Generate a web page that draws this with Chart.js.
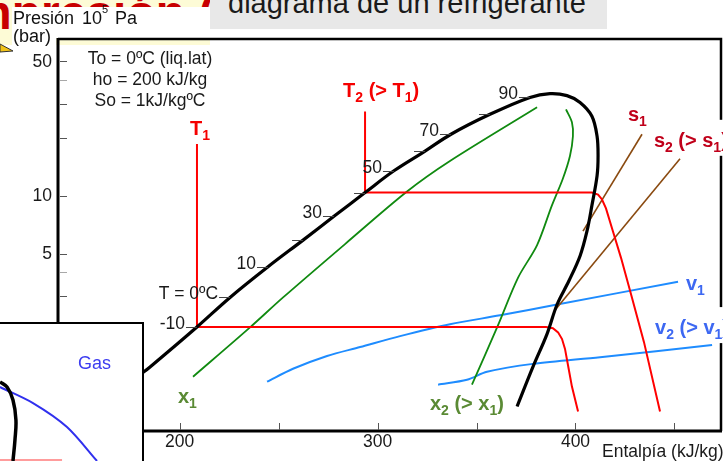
<!DOCTYPE html>
<html>
<head>
<meta charset="utf-8">
<script src="https://cdn.jsdelivr.net/npm/chart.js@4.4.1/dist/chart.umd.min.js"></script>
<style>
    html, body { margin: 0; padding: 0; background: #fff; }
    body { width: 723px; height: 461px; position: relative; overflow: hidden; font-family: "Liberation Sans", Arial, sans-serif; }
    #slideHead { position: absolute; left: 0; top: 0; width: 210px; height: 45px; background: #fdfbd6; overflow: hidden; z-index: 1; }
    #slideHead span { position: absolute; left: -31px; top: -11px; font: bold 48px "Liberation Sans", Arial, sans-serif; line-height: 48px; color: #c80000; white-space: nowrap; }
    .cover { position: absolute; background: #fff; z-index: 2; }
    #graphCanvas { position: absolute; left: 0; top: 0; z-index: 3; }
    .txt { position: absolute; white-space: nowrap; color: #111; z-index: 4; line-height: 18px; font-size: 18px; }
    #titleBox { position: absolute; left: 210px; top: 0; width: 397px; height: 29px; background: #e8e8e8; overflow: hidden; z-index: 4; }
    #titleBox span { position: absolute; left: 18px; top: -11.5px; font-size: 29px; line-height: 29px; color: #1a1a1a; white-space: nowrap; }
    #inset { position: absolute; left: -3px; top: 322px; width: 147px; height: 150px; box-sizing: border-box; border: 2.5px solid #000; background: #fff; z-index: 5; }
    #insetCanvas { position: absolute; left: 0; top: 324px; z-index: 6; }
    #gasLabel { position: absolute; left: 78px; top: 354px; font-size: 18px; line-height: 18px; color: #3c3cf0; z-index: 7; }
    #pointer { position: absolute; left: 0; top: 42px; z-index: 4; }
</style>
</head>
<body>
<div id="slideHead"><span>mpresión (R</span></div>
<div class="cover" style="left:12px; top:7px; width:198px; height:31px;"></div>
<div class="cover" style="left:12px; top:38px; width:44px; height:10px;"></div>
<svg id="pointer" width="16" height="14"><polygon points="0,2 13,9 0,10" fill="#f2c318" stroke="#333" stroke-width="1"/></svg>

<canvas id="graphCanvas" width="723" height="461"></canvas>

<span class="txt" style="left:13px; top:9px;">Presión</span>
<span class="txt" style="left:82px; top:9px;">10</span>
<span class="txt" style="left:102px; top:4px; font-size:11px; line-height:11px;">5</span>
<span class="txt" style="left:115px; top:9px;">Pa</span>
<span class="txt" style="left:13px; top:27px;">(bar)</span>
<div id="titleBox"><span>diagrama de un refrigerante</span></div>

<div id="inset"></div>
<canvas id="insetCanvas" width="141" height="137"></canvas>
<span id="gasLabel">Gas</span>

<script>
const FONT = '"Liberation Sans", Arial, sans-serif';

// saturation dome: enthalpy (kJ/kg) and pressure (bar)
const dome_h = [180.1, 185.1, 208.8, 225.5, 244.7, 262.4, 278.0, 293.7, 308.3, 324.0, 337.1, 356.8, 377.0, 387.1, 395.7, 402.3, 408.3, 410.9, 411.4, 410.9, 408.3, 405.8, 402.3, 396.7, 390.7, 385.6, 378.5, 370.5];
const dome_p = [1.175, 1.29, 2.08, 2.96, 4.27, 5.87, 7.80, 10.36, 13.44, 17.0, 20.8, 26.4, 32.3, 33.8, 33.0, 30.4, 25.8, 20.3, 16.05, 12.67, 8.89, 6.53, 4.86, 3.61, 2.72, 1.91, 1.29, 0.804];

// saturation temperatures marked along the liquid line
const tempTicks = ["-10", "T = 0ºC", "10", "", "30", "", "50", "", "70", "", "90"];
const tempTick_h = [208.8, 225.5, 244.7, 262.4, 278.0, 293.7, 308.3, 324.0, 337.1, 356.8, 377.0];
const tempTick_p = [2.08, 2.96, 4.27, 5.87, 7.80, 10.36, 13.44, 17.0, 20.8, 26.4, 32.3];

// isotherms T1 = -10 ºC and T2 = 40 ºC
const t1_h = [208.8, 208.8, 385.1, 388.6, 391.2, 393.2, 394.7, 396.2, 398.2, 401.3];
const t1_p = [18.5, 2.08, 2.08, 2.05, 1.95, 1.80, 1.60, 1.32, 1.02, 0.758];
const t2_h = [293.7, 293.7, 408.3, 411.4, 413.4, 415.4, 418.9, 423.0, 428.5, 434.6, 442.7];
const t2_p = [27.3, 10.36, 10.36, 10.12, 9.54, 8.57, 6.53, 4.75, 2.96, 1.735, 0.758];

// constant quality lines
const x1_h = [206.8, 235.6, 252.3, 283.6, 314.9, 336.6, 380.6];
const x1_p = [1.148, 2.07, 2.96, 5.60, 10.49, 15.1, 28.7];
const x2_h = [395.2, 398.2, 398.7, 397.2, 393.6, 388.1, 380.6, 371.0, 360.4, 347.7];
const x2_p = [28.0, 24.0, 20.3, 16.05, 12.23, 8.89, 5.53, 3.75, 2.07, 1.044];

// isentropes
const s1_h = [433.6, 403.8];
const s1_p = [20.8, 6.53];
const s2_h = [452.8, 389.6];
const s2_p = [15.5, 2.54];

// constant specific volume lines
const v1_h = [244.2, 257.3, 274.5, 291.2, 311.4, 336.6, 361.9, 390.7, 451.8];
const v1_p = [1.081, 1.262, 1.471, 1.636, 1.864, 2.148, 2.39, 2.72, 3.57];
const v2_h = [330.6, 345.2, 355.3, 378.5, 412.4, 469.0];
const v2_p = [1.044, 1.107, 1.217, 1.338, 1.45, 1.675];

// axes
const pressureTicks = [50, 40, 30, 20, 10, 5, 4, 3, 2, 1];
const pressureLabels = [50, 10, 5];
const enthalpyTicks = [200, 250, 300, 350, 400, 450];
const enthalpyLabels = [200, 300, 400];

const refText = ["To = 0ºC (liq.lat)", "ho = 200 kJ/kg", "So = 1kJ/kgºC"];

// curve names, anchored at (h, p) of their left/baseline corner
const curveNames = [
    { parts: [["T", 0], ["1", 1]], h: 205.3, p: 20.6, color: "#f50000" },
    { parts: [["T", 0], ["2", 1], [" (> T", 0], ["1", 1], [")", 0]], h: 282.6, p: 32.3, color: "#f50000" },
    { parts: [["s", 0], ["1", 1]], h: 426.5, p: 24.3, color: "#c0001a" },
    { parts: [["s", 0], ["2", 1], [" (> s", 0], ["1", 1], [")", 0]], h: 439.6, p: 17.9, color: "#c0001a", box: true },
    { parts: [["v", 0], ["1", 1]], h: 455.8, p: 3.25, color: "#3d68f2" },
    { parts: [["v", 0], ["2", 1], [" (> v", 0], ["1", 1], [")", 0]], h: 440.2, p: 1.91, color: "#3d68f2", box: true },
    { parts: [["x", 0], ["1", 1]], h: 199.2, p: 0.843, color: "#5a8a34" },
    { parts: [["x", 0], ["2", 1], [" (> x", 0], ["1", 1], [")", 0]], h: 326.5, p: 0.767, color: "#5a8a34" },
];

// small inset: piece of another diagram
const inset_dome_x = [0, 0.50, 0.92, 1.13, 1.06, 0.92];
const inset_dome_y = [5.77, 5.40, 4.45, 2.99, 1.53, 0];
const inset_gas_x = [0, 2.34, 4.75, 6.88];
const inset_gas_y = [5.40, 4.23, 2.48, 0];
const inset_red_x = [0, 4.40];
const inset_red_y = [0.07, 0.07];

function toPoints(xs, ys) {
    return xs.map((x, i) => ({ x: x, y: ys[i] }));
}

function lineSet(xs, ys, color, width, tension, order) {
    return {
        data: toPoints(xs, ys),
        borderColor: color,
        borderWidth: width,
        pointRadius: 0,
        tension: tension,
        fill: false,
        order: order,
    };
}

function drawParts(ctx, parts, x, y, size, color) {
    let cx = x;
    ctx.fillStyle = color;
    ctx.textAlign = "left";
    ctx.textBaseline = "alphabetic";
    parts.forEach(([txt, sub]) => {
        let fs = sub ? Math.round(size * 0.68) : size;
        ctx.font = `bold ${fs}px ${FONT}`;
        ctx.fillText(txt, cx, sub ? y + 5 : y);
        cx += ctx.measureText(txt).width;
    });
    return cx - x;
}

const decorations = {
    id: "decorations",
    afterDatasetsDraw(chart) {
        const ctx = chart.ctx;
        const area = chart.chartArea;
        const xs = chart.scales.x;
        const ys = chart.scales.y;
        ctx.save();

        // frame
        ctx.strokeStyle = "#000";
        ctx.lineWidth = 2.5;
        ctx.beginPath();
        ctx.moveTo(area.left, area.top);
        ctx.lineTo(area.right, area.top);
        ctx.lineTo(area.right, area.bottom);
        ctx.stroke();
        ctx.lineWidth = 3;
        ctx.beginPath();
        ctx.moveTo(area.left, area.top - 1);
        ctx.lineTo(area.left, area.bottom);
        ctx.lineTo(area.right + 1, area.bottom);
        ctx.stroke();

        // ticks pointing into the plot
        ctx.lineWidth = 1;
        pressureTicks.forEach((v) => {
            let y = Math.round(ys.getPixelForValue(v)) + 0.5;
            ctx.strokeStyle = v == 40 || v == 4 ? "#a8a8a8" : "#555";
            ctx.beginPath();
            ctx.moveTo(area.left + 2, y);
            ctx.lineTo(area.left + 9, y);
            ctx.stroke();
        });
        ctx.strokeStyle = "#555";
        enthalpyTicks.forEach((v) => {
            let x = Math.round(xs.getPixelForValue(v)) + 0.5;
            ctx.beginPath();
            ctx.moveTo(x, area.bottom - 8);
            ctx.lineTo(x, area.bottom - 1);
            ctx.stroke();
        });

        ctx.fillStyle = "#1a1a1a";
        ctx.font = `17.5px ${FONT}`;
        ctx.textAlign = "right";
        ctx.textBaseline = "middle";
        pressureLabels.forEach((v) => {
            ctx.fillText(String(v), area.left - 6, ys.getPixelForValue(v) + 1);
        });
        ctx.textAlign = "center";
        enthalpyLabels.forEach((v) => {
            ctx.fillText(String(v), xs.getPixelForValue(v), area.bottom + 11);
        });
        ctx.textAlign = "left";
        ctx.textBaseline = "alphabetic";
        ctx.fillText("Entalpía (kJ/kg)", 602, 457);

        // reference state
        ctx.textAlign = "center";
        refText.forEach((t, i) => {
            ctx.fillText(t, area.left + 92, area.top + 25 + i * 21);
        });

        // temperature marks on the liquid line
        ctx.strokeStyle = "#444";
        tempTicks.forEach((t, i) => {
            let x = xs.getPixelForValue(tempTick_h[i]);
            let y = Math.round(ys.getPixelForValue(tempTick_p[i])) + 0.5;
            ctx.beginPath();
            ctx.moveTo(x - 11, y);
            ctx.lineTo(x, y);
            ctx.stroke();
            if (t) {
                ctx.textAlign = "right";
                ctx.fillText(t, x - 12, y + 1);
            }
        });

        // curve names
        curveNames.forEach((c) => {
            let x = xs.getPixelForValue(c.h);
            let y = ys.getPixelForValue(c.p);
            if (c.box) {
                ctx.fillStyle = "#fff";
                ctx.fillRect(x - 6, y - 27, 80, 36);
            }
            drawParts(ctx, c.parts, x, y, 20, c.color);
        });
        ctx.restore();
    },
};

const graphCanvas = document.getElementById("graphCanvas");
const chart = new Chart(graphCanvas.getContext("2d"), {
    type: "line",
    data: {
        datasets: [
            lineSet(dome_h, dome_p, "#000", 3.2, 0.35, 1),
            lineSet(t1_h, t1_p, "#ff0000", 2, 0, 2),
            lineSet(t2_h, t2_p, "#ff0000", 2, 0, 2),
            lineSet(x1_h, x1_p, "#108a10", 1.8, 0.3, 3),
            lineSet(x2_h, x2_p, "#108a10", 1.8, 0.3, 3),
            lineSet(s1_h, s1_p, "#8a4a10", 1.6, 0, 4),
            lineSet(s2_h, s2_p, "#8a4a10", 1.6, 0, 4),
            lineSet(v1_h, v1_p, "#1e8cff", 2, 0.3, 5),
            lineSet(v2_h, v2_p, "#1e8cff", 2, 0.3, 5),
        ],
    },
    options: {
        responsive: false,
        animation: false,
        devicePixelRatio: 1,
        layout: { padding: { left: 58, right: 2, top: 39, bottom: 30 } },
        plugins: { legend: { display: false }, tooltip: { enabled: false } },
        scales: {
            x: { type: "linear", min: 138.6, max: 473.5, display: false },
            y: { type: "logarithmic", min: 0.627, max: 64.9, display: false },
        },
    },
    plugins: [decorations],
});

const insetCanvas = document.getElementById("insetCanvas");
const inset = new Chart(insetCanvas.getContext("2d"), {
    type: "line",
    data: {
        datasets: [
            lineSet(inset_dome_x, inset_dome_y, "#000", 3.5, 0.4, 1),
            lineSet(inset_gas_x, inset_gas_y, "#3030ee", 2, 0.3, 2),
            lineSet(inset_red_x, inset_red_y, "#ff9c9c", 2, 0, 3),
        ],
    },
    options: {
        responsive: false,
        animation: false,
        devicePixelRatio: 1,
        layout: { padding: 0 },
        plugins: { legend: { display: false }, tooltip: { enabled: false } },
        scales: {
            x: { type: "linear", min: 0, max: 10, display: false },
            y: { type: "linear", min: 0, max: 10, display: false },
        },
    },
});
</script>
</body>
</html>
